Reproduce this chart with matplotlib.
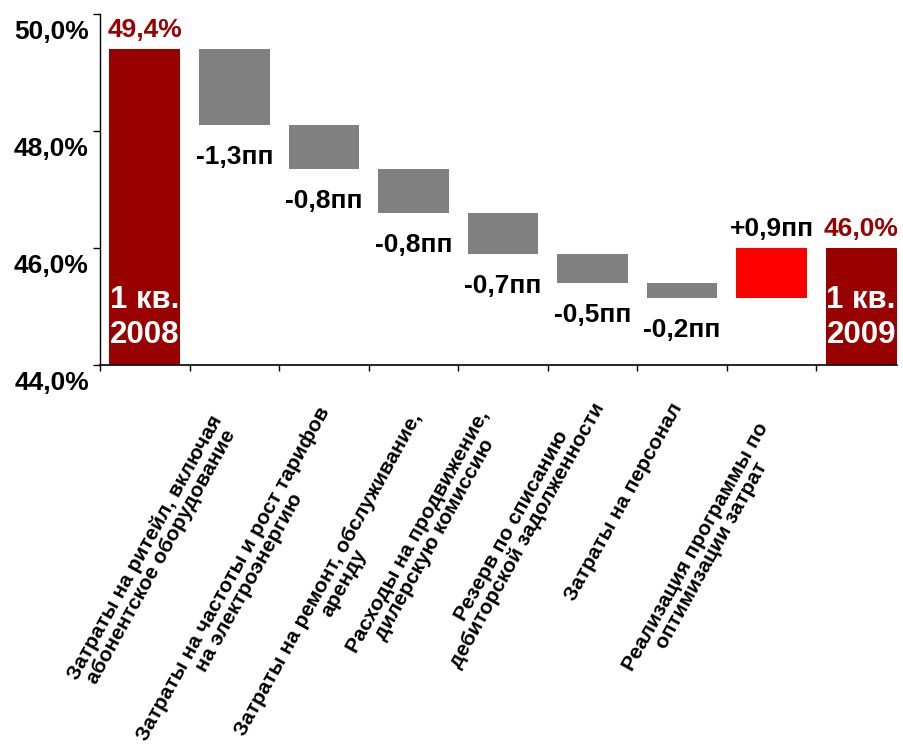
import numpy as np
import matplotlib
matplotlib.use("Agg")
import matplotlib.pyplot as plt
from matplotlib.transforms import ScaledTranslation

plt.rcParams['font.family'] = ['Liberation Sans', 'DejaVu Sans']
plt.rcParams['font.weight'] = 'bold'

# data
categories = ['',
              'Затраты на ритейл, включая\nабонентское оборудование',
              'Затраты на частоты и рост тарифов\nна электроэнергию',
              'Затраты на ремонт, обслуживание,\nаренду',
              'Расходы на продвижение,\nдилерскую комиссию',
              'Резерв по списанию\nдебиторской задолженности',
              'Затраты на персонал',
              'Реализация программы по\nоптимизации затрат',
              '']
total_names = ['1 кв.\n2008', '1 кв.\n2009']
start_value = 49.4
end_value = 46.0
total_labels = ['49,4%', '46,0%']
changes = [-1.3, -0.75, -0.75, -0.7, -0.5, -0.25, 0.85]
change_labels = ['-1,3пп', '-0,8пп', '-0,8пп', '-0,7пп', '-0,5пп', '-0,2пп', '+0,9пп']
yticks = [44, 46, 48, 50]
ytick_labels = ['44,0%', '46,0%', '48,0%', '50,0%']

# small pixel nudges so the rotated labels sit where the original put them
label_nudge = [(0, 0), (2, 3), (20, -6), (22, 0), (0, -3), (10, -19), (-2, -10), (10, 10), (0, 0)]

DARK_RED = '#990000'
GREY = '#808080'
RED = '#FF0000'
BASE = 44.0
W = 0.79

fig = plt.figure(figsize=(9.04, 7.56), dpi=100)
ax = fig.add_axes([100 / 904, 1 - 365 / 756, 797 / 904, (365 - 14.3) / 756])

# totals
n = len(categories)
totals_x = [0, n - 1]
totals_y = [start_value, end_value]
ax.bar(totals_x, [v - BASE for v in totals_y], bottom=BASE, width=W, color=DARK_RED)
for x, v, lab, name in zip(totals_x, totals_y, total_labels, total_names):
    ax.annotate(lab, (x, v), xytext=(0, 8.6), textcoords='offset points',
                ha='center', va='baseline', fontsize=19, color=DARK_RED)
    ax.annotate(name, (x, BASE), xytext=(0, 11), textcoords='offset points',
                ha='center', va='bottom', fontsize=22.5, color='white', linespacing=1.2)

# floating steps
level = start_value
for i, (d, lab) in enumerate(zip(changes, change_labels)):
    x = i + 1
    new_level = level + d
    lo, hi = min(level, new_level), max(level, new_level)
    ax.bar(x, hi - lo, bottom=lo, width=W, color=RED if d > 0 else GREY)
    if d > 0:
        ax.annotate(lab, (x, hi), xytext=(0, 8.6), textcoords='offset points',
                    ha='center', va='baseline', fontsize=19, color='black')
    else:
        ax.annotate(lab, (x, lo), xytext=(0, -14.4), textcoords='offset points',
                    ha='center', va='top', fontsize=19, color='black')
    level = new_level

ax.set_ylim(44, 50)
ax.set_xlim(-0.5, n - 0.6)
for s in ['top', 'right']:
    ax.spines[s].set_visible(False)
ax.spines['left'].set_linewidth(1.0)
ax.spines['bottom'].set_linewidth(1.2)

ax.set_yticks(yticks)
ax.set_yticklabels(ytick_labels, fontsize=19)
ax.tick_params(axis='y', length=5, width=1, pad=3)
offset = ScaledTranslation(0, -15 / 100, fig.dpi_scale_trans)
for t in ax.get_yticklabels():
    t.set_transform(t.get_transform() + offset)

ax.set_xticks(np.arange(n))
ax.set_xticklabels(categories, rotation=61, ha='right', va='top',
                   fontsize=15, multialignment='center', linespacing=0.95)
ax.tick_params(axis='x', which='major', length=0, pad=32)
for t, (dx, dy) in zip(ax.get_xticklabels(), label_nudge):
    t.set_transform(t.get_transform() +
                    ScaledTranslation((6 + dx) / 100, -dy / 100, fig.dpi_scale_trans))
ax.set_xticks(np.arange(-0.5, n - 1), minor=True)
ax.tick_params(axis='x', which='minor', length=4.3, width=1)

fig.savefig('out.png', dpi=100)
